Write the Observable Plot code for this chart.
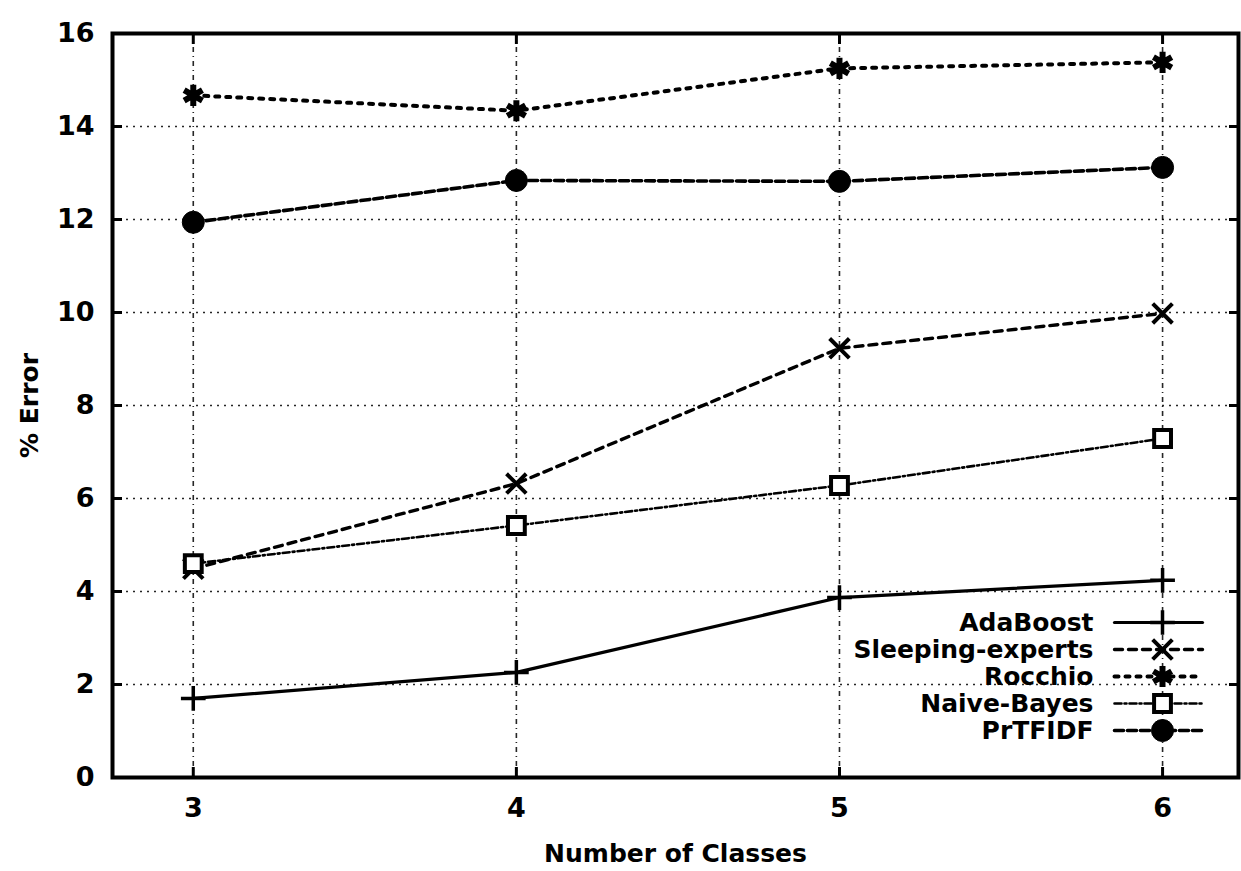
<!DOCTYPE html>
<html><head><meta charset="utf-8">
<script src="https://cdn.jsdelivr.net/npm/d3@7"></script>
<script src="https://cdn.jsdelivr.net/npm/@observablehq/plot@0.6"></script>
<style>
body{margin:0;background:#fff;overflow:hidden}
svg{display:block}
</style>
</head><body><div id="chart"></div>
<script>
// ---- data ----
const classes = [3, 4, 5, 6];
const seriesNames = ["AdaBoost", "Sleeping-experts", "Rocchio", "Naive-Bayes", "PrTFIDF"];
const adaBoost        = [1.70, 2.26, 3.87, 4.24];
const sleepingExperts = [4.49, 6.32, 9.23, 9.98];
const rocchio         = [14.67, 14.34, 15.25, 15.38];
const naiveBayes      = [4.60, 5.42, 6.28, 7.29];
const prTFIDF         = [11.94, 12.84, 12.82, 13.12];
const xTicks = [3, 4, 5, 6];
const yTicks = [0, 2, 4, 6, 8, 10, 12, 14, 16];
const xLabel = "Number of Classes";
const yLabel = "% Error";

// ---- styles ----
const styleOf = {
  "AdaBoost":         {dash: null,      width: 3.2, symbol: "plus",     r: 8,  fill: "none",  sw: 3.5},
  "Sleeping-experts": {dash: "8,6",     width: 3.4, symbol: "times",    r: 9,  fill: "none",  sw: 4},
  "Rocchio":          {dash: "4,7",     width: 4,   symbol: "asterisk", r: 10, fill: "none",  sw: 6},
  "Naive-Bayes":      {dash: "7,3,2,3", width: 2.6, symbol: "square",   r: 9.5, fill: "white", sw: 4},
  "PrTFIDF":          {dash: "9,4",     width: 3.6, symbol: "circle",   r: 11, fill: "black", sw: 1}
};
const valuesOf = {
  "AdaBoost": adaBoost, "Sleeping-experts": sleepingExperts, "Rocchio": rocchio,
  "Naive-Bayes": naiveBayes, "PrTFIDF": prTFIDF
};

const FONT = "DejaVu Sans";
const seriesMarks = [];
const legendMarks = [];
seriesNames.forEach((name, i) => {
  const s = styleOf[name];
  const rows = valuesOf[name].map((v, j) => ({name, x: classes[j], y: v}));
  seriesMarks.push(Plot.line(rows, {x: "x", y: "y", stroke: "black", strokeWidth: s.width, strokeDasharray: s.dash}));
  seriesMarks.push(Plot.dot(rows, {x: "x", y: "y", symbol: s.symbol, r: s.r, fill: s.fill, stroke: "black", strokeWidth: s.sw}));
  const dy = -155 + 27 * i;
  legendMarks.push(Plot.text([name], {text: d => d, frameAnchor: "bottom-right", dx: -145, dy, textAnchor: "end", lineAnchor: "middle", fontSize: 25, fontWeight: "bold", fontFamily: FONT, fill: "black"}));
  legendMarks.push(Plot.vector([name], {frameAnchor: "bottom-right", dx: -80, dy, rotate: 90, length: 88, anchor: "middle", stroke: "black", strokeWidth: s.width, strokeDasharray: s.dash,
    shape: {draw(ctx, l) { ctx.moveTo(0, 0); ctx.lineTo(0, -l); }}}));
  legendMarks.push(Plot.dot([name], {frameAnchor: "bottom-right", dx: -76, dy, symbol: s.symbol, r: s.r, fill: s.fill, stroke: "black", strokeWidth: s.sw}));
});

const chart = Plot.plot({
  width: 1241, height: 871,
  marginLeft: 112, marginRight: 3, marginTop: 33, marginBottom: 94,
  style: {fontFamily: FONT, fontWeight: "bold", color: "black", background: "white"},
  x: {domain: [2.75, 6.235]},
  y: {domain: [0, 16]},
  marks: [
    Plot.gridX(xTicks, {stroke: "black", strokeOpacity: 0.85, strokeWidth: 1.6, strokeDasharray: "5,4,1,4"}),
    Plot.gridY(yTicks, {stroke: "black", strokeOpacity: 0.85, strokeWidth: 1.6, strokeDasharray: "2,5"}),
    Plot.axisX(xTicks, {anchor: "bottom", tickSize: 0, tickPadding: 20, fontSize: 27, tickFormat: d3.format("d"), label: null}),
    Plot.axisX({anchor: "bottom", ticks: [], label: xLabel, labelAnchor: "center", labelArrow: "none", labelOffset: 84, fontSize: 25}),
    Plot.axisY(yTicks, {anchor: "left", tickSize: 0, tickPadding: 18, fontSize: 27, tickFormat: d3.format("d"), label: null}),
    Plot.axisY({anchor: "left", ticks: [], label: yLabel, labelAnchor: "center", labelArrow: "none", labelOffset: 92, fontSize: 25}),
    Plot.axisX(xTicks, {anchor: "bottom", tickSize: -10, strokeWidth: 3, tickFormat: () => "", label: null}),
    Plot.axisX(xTicks, {anchor: "top", tickSize: -10, strokeWidth: 3, tickFormat: () => "", label: null}),
    Plot.axisY(yTicks, {anchor: "left", tickSize: -10, strokeWidth: 3, tickFormat: () => "", label: null}),
    Plot.axisY(yTicks, {anchor: "right", tickSize: -10, strokeWidth: 3, tickFormat: () => "", label: null}),
    ...seriesMarks,
    ...legendMarks,
    Plot.frame({stroke: "black", strokeWidth: 4})
  ]
});
document.getElementById("chart").append(chart);
</script>
</body></html>
